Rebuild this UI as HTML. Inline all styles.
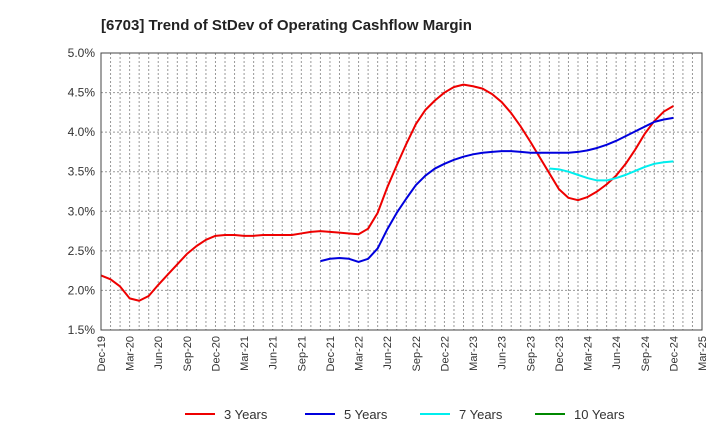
<!DOCTYPE html>
<html><head><meta charset="utf-8"><style>
body{margin:0;background:#fff;font-family:"Liberation Sans",sans-serif}
</style></head><body>
<svg id="chart" width="720" height="440" xmlns="http://www.w3.org/2000/svg" font-family="Liberation Sans, sans-serif">
<text x="101" y="30" font-size="15" font-weight="bold" fill="#222">[6703]  Trend of StDev of Operating Cashflow Margin</text>
<g id="grid"></g><g id="series"></g><g id="axes"></g><g id="legend"></g>
</svg>
<script>
const xTickLabels=["Dec-19","Mar-20","Jun-20","Sep-20","Dec-20","Mar-21","Jun-21","Sep-21","Dec-21","Mar-22","Jun-22","Sep-22","Dec-22","Mar-23","Jun-23","Sep-23","Dec-23","Mar-24","Jun-24","Sep-24","Dec-24","Mar-25"];
const yTicks=[1.5,2.0,2.5,3.0,3.5,4.0,4.5,5.0];
const red3=[2.19,2.14,2.05,1.90,1.87,1.93,2.07,2.20,2.33,2.46,2.56,2.64,2.69,2.70,2.70,2.69,2.69,2.70,2.70,2.70,2.70,2.72,2.74,2.75,2.74,2.73,2.72,2.71,2.78,2.98,3.30,3.58,3.85,4.10,4.28,4.40,4.50,4.57,4.60,4.58,4.55,4.48,4.38,4.24,4.07,3.88,3.68,3.48,3.28,3.17,3.14,3.18,3.25,3.34,3.45,3.60,3.78,3.98,4.14,4.26,4.33];
const blue5Start=23;
const blue5=[2.37,2.40,2.41,2.40,2.36,2.40,2.53,2.77,2.98,3.16,3.33,3.45,3.54,3.60,3.65,3.69,3.72,3.74,3.75,3.76,3.76,3.75,3.74,3.74,3.74,3.74,3.74,3.75,3.77,3.80,3.84,3.89,3.95,4.01,4.07,4.13,4.16,4.18];
const cyan7Start=47;
const cyan7=[3.54,3.53,3.50,3.46,3.42,3.39,3.39,3.42,3.46,3.51,3.56,3.60,3.62,3.63];
const green10=[];
const L=101,R=702,T=53,B=330,NM=63;
const X=m=>L+(R-L)*m/NM;
const Y=v=>B-(v-1.5)/(3.5)*(B-T);
const NS="http://www.w3.org/2000/svg";
function mk(tag,attrs,parent,txt){const e=document.createElementNS(NS,tag);for(const k in attrs)e.setAttribute(k,attrs[k]);if(txt!==undefined)e.textContent=txt;document.getElementById(parent).appendChild(e);return e;}
for(let m=1;m<NM;m++){const e=mk('line',{x1:X(m),x2:X(m),y1:T,y2:B,stroke:'#999','stroke-dasharray':'2,2','stroke-width':1},'grid');

}
yTicks.forEach(v=>{const g=mk('line',{x1:L,x2:R,y1:Y(v),y2:Y(v),stroke:'#999','stroke-dasharray':'2,2','stroke-width':1},'grid');


const t=mk('text',{x:L-6,y:Y(v)+4,'text-anchor':'end','font-size':12,fill:'#333'},'axes',v.toFixed(1)+'%');

});
xTickLabels.forEach((s,i)=>{const x=X(i*3);const t=mk('text',{x:0,y:0,transform:`translate(${x+4},${B+6}) rotate(-90)`,'text-anchor':'end','font-size':11,fill:'#333'},'axes',s);

});
const fr=mk('rect',{x:L,y:T,width:R-L,height:B-T,fill:'none',stroke:'#444','stroke-width':1},'axes');


function line(vals,start,color,name){if(!vals.length)return;const p=mk('polyline',{points:vals.map((v,i)=>X(start+i)+','+Y(v)).join(' '),fill:'none',stroke:color,'stroke-width':2,'stroke-linejoin':'round'},'series');

}
line(red3,0,'#e00','series-3-years');
line(blue5,blue5Start,'#00d','series-5-years');
line(cyan7,cyan7Start,'#0ee','series-7-years');
line(green10,0,'#080','series-10-years');
const leg=[["3 Years","#e00",185],["5 Years","#00d",305],["7 Years","#0ee",420],["10 Years","#080",535]];
leg.forEach(([s,c,x])=>{const l=mk('line',{x1:x,x2:x+30,y1:414,y2:414,stroke:c,'stroke-width':2},'legend');


const t=mk('text',{x:x+39,y:419,'font-size':13,fill:'#333'},'legend',s);

});
</script>
</body></html>
